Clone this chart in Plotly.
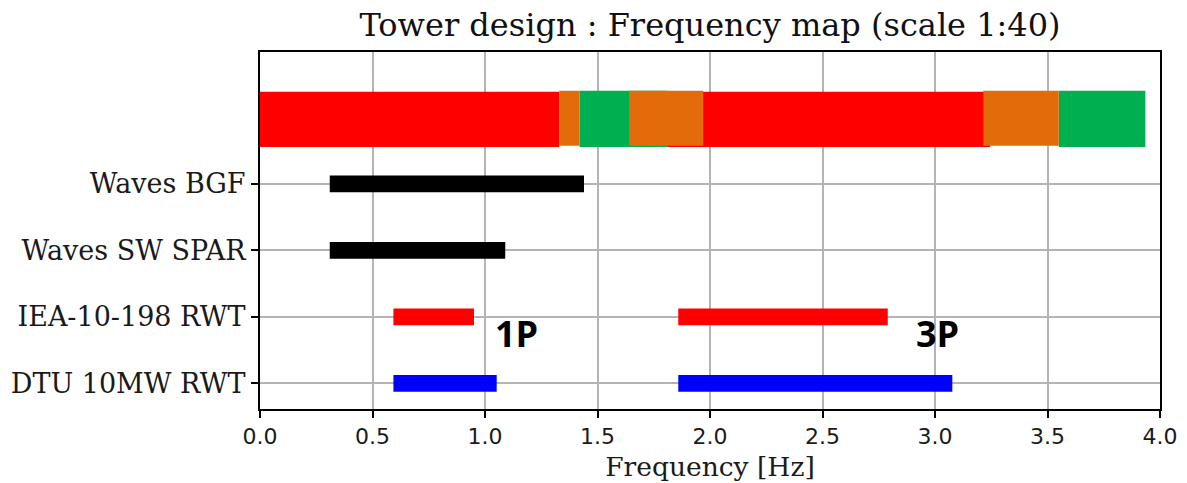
import plotly.graph_objects as go

# ---- data ----
row_labels = ["DTU 10MW RWT", "IEA-10-198 RWT", "Waves SW SPAR", "Waves BGF"]
row_pos = [0, 1, 2, 3]
top_row = 4

# top frequency map bands (Hz): start, end
red_start = [-0.01, 1.81]
red_end = [1.33, 3.245]
green_start = [1.42, 3.55]
green_end = [1.81, 3.935]
orange_start = [1.33, 1.64, 3.215]
orange_end = [1.42, 1.97, 3.55]

# excitation ranges (Hz)
bgf_range = [0.31, 1.44]
spar_range = [0.31, 1.09]
iea_1p = [0.593, 0.951]
iea_3p = [1.859, 2.79]
dtu_1p = [0.593, 1.052]
dtu_3p = [1.859, 3.077]

labels_text = ["1P", "3P"]
labels_x = [1.142, 3.01]
labels_y = [0.75, 0.75]

x_ticks = [0.0, 0.5, 1.0, 1.5, 2.0, 2.5, 3.0, 3.5, 4.0]

RED = "#ff0000"
ORANGE = "#e36c0a"
GREEN = "#00b050"

fig = go.Figure()

def band_trace(starts, ends, color, width, offset):
    return go.Bar(
        y=[top_row] * len(starts),
        x=[e - s for s, e in zip(starts, ends)],
        base=starts,
        orientation="h",
        marker=dict(color=color, line=dict(width=0)),
        width=width,
        offset=offset,
        showlegend=False,
        hoverinfo="skip",
    )

fig.add_trace(band_trace(red_start, red_end, RED, 0.834, -0.447))
fig.add_trace(band_trace(green_start, green_end, GREEN, 0.849, -0.447))
fig.add_trace(band_trace(orange_start, orange_end, ORANGE, 0.83, -0.428))

def range_trace(rng_list, ypos, color):
    return go.Bar(
        y=[ypos] * len(rng_list),
        x=[r[1] - r[0] for r in rng_list],
        base=[r[0] for r in rng_list],
        orientation="h",
        marker=dict(color=color, line=dict(width=0)),
        width=0.25,
        showlegend=False,
        hoverinfo="skip",
    )

fig.add_trace(range_trace([bgf_range], 3, "#000000"))
fig.add_trace(range_trace([spar_range], 2, "#000000"))
fig.add_trace(range_trace([iea_1p, iea_3p], 1, RED))
fig.add_trace(range_trace([dtu_1p, dtu_3p], 0, "#0000ff"))

for t, x, y in zip(labels_text, labels_x, labels_y):
    fig.add_annotation(
        x=x, y=y, text="<b>" + t + "</b>", showarrow=False,
        font=dict(family="Open Sans", size=36, color="#000000"),
        xanchor="center", yanchor="middle",
    )

fig.update_layout(
    width=1187, height=483,
    margin=dict(l=260, r=27, t=52, b=74, autoexpand=False),
    paper_bgcolor="white", plot_bgcolor="white",
    barmode="overlay",
    title=dict(
        text="Tower design : Frequency map (scale 1:40)",
        font=dict(family="DejaVu Serif", size=32, color="#111111"),
        x=0.5, xref="paper", xanchor="center",
        y=1 - 25 / 483, yanchor="middle", yref="container",
    ),
)

fig.update_xaxes(
    range=[0, 4], tickvals=x_ticks, ticktext=[f"{v:.1f}" for v in x_ticks],
    showgrid=True, gridcolor="#b4b4b4", gridwidth=1.6,
    showline=True, linecolor="#000000", linewidth=2, mirror=True,
    ticks="outside", ticklen=7, tickwidth=1.6, tickcolor="#000000",
    tickfont=dict(family="DejaVu Sans", size=22, color="#1a1a1a"),
    title=dict(text="Frequency [Hz]", font=dict(family="DejaVu Serif", size=26.5, color="#1a1a1a"), standoff=9),
    zeroline=False, automargin=False,
)
fig.update_yaxes(
    range=[-0.386, 4.983], tickvals=row_pos, ticktext=row_labels,
    showgrid=True, gridcolor="#b4b4b4", gridwidth=1.6,
    showline=True, linecolor="#000000", linewidth=2, mirror=True,
    ticks="outside", ticklen=7, tickwidth=1.6, tickcolor="#000000",
    tickfont=dict(family="DejaVu Serif", size=27, color="#1a1a1a"),
    zeroline=False, automargin=False,
)

fig.write_html(
    "out.html",
    config={"displayModeBar": False},
    post_script="document.body.style.margin='0px';document.body.style.overflow='hidden';",
)
